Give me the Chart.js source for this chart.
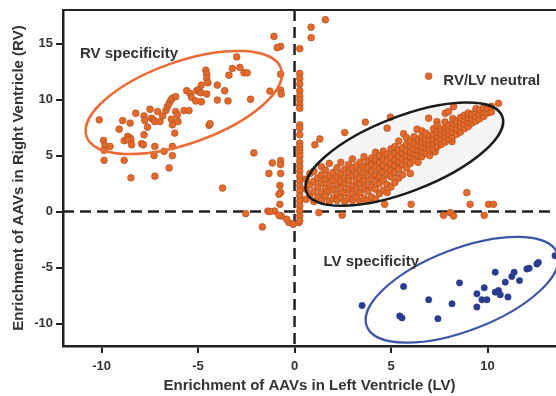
<!DOCTYPE html>
<html><head><meta charset="utf-8">
<script src="https://cdn.jsdelivr.net/npm/chart.js@4.4.0/dist/chart.umd.min.js"></script>
<style>html,body{margin:0;padding:0;background:#fff}#wrap{width:556px;height:396px;position:relative}</style>
</head><body><div id="wrap"><canvas id="c" width="556" height="396"></canvas></div>
<script>
const xTicks=[-10,-5,0,5,10];
const yTicks=[-10,-5,0,5,10,15];
const xTitle='Enrichment of AAVs in Left Ventricle (LV)';
const yTitle='Enrichment of AAVs in Right Ventricle (RV)';

const rvPoints=[[-10.12,8.19],[-9.90,6.35],[-9.83,5.88],[-9.56,5.82],[-9.87,5.47],[-9.87,4.58],[-9.09,7.36],[-8.91,8.13],[-8.83,6.33],[-8.83,4.58],[-8.65,6.71],[-8.52,6.57],[-8.48,6.42],[-8.65,6.42],[-8.45,5.97],[-8.52,7.90],[-8.48,3.02],[-8.23,8.78],[-7.93,6.06],[-7.83,5.97],[-7.80,6.86],[-7.80,8.54],[-7.76,8.13],[-7.62,7.54],[-7.49,9.14],[-7.41,8.34],[-7.31,8.19],[-7.24,8.04],[-7.24,5.82],[-7.28,5.00],[-7.24,3.16],[-7.10,8.93],[-6.97,8.04],[-6.84,8.54],[-6.76,5.38],[-6.67,9.02],[-6.59,9.37],[-6.50,9.67],[-6.41,9.96],[-6.33,10.12],[-6.16,10.26],[-6.50,3.90],[-6.38,8.25],[-6.33,7.75],[-6.33,5.82],[-6.33,5.00],[-6.21,7.01],[-6.16,8.93],[-6.07,8.63],[-6.04,8.04],[-5.73,9.02],[-5.47,9.02],[-5.59,10.79],[-5.42,10.56],[-5.34,10.20],[-5.12,9.88],[-5.07,10.79],[-4.95,10.91],[-4.86,10.61],[-4.83,9.81],[-4.83,11.30],[-4.60,12.63],[-4.55,12.27],[-4.55,11.89],[-4.49,11.50],[-4.55,10.50],[-4.43,7.70],[-4.38,7.85],[-4.00,11.30],[-4.00,9.96],[-3.62,10.79],[-3.45,9.88],[-3.40,12.18],[-3.22,12.78],[-3.00,13.81],[-2.83,12.87],[-2.62,12.39],[-2.45,12.39],[-2.28,10.03],[-2.11,5.24]];

const neutralCols=[
[0.6,[1.1,2.0,2.9]],[0.8,[1.5,2.4,3.4]],[1.0,[0.9,1.8,2.7,3.6]],[1.2,[1.3,2.2,3.0]],
[1.4,[1.0,1.7,2.6,3.3,4.0]],[1.6,[1.4,2.1,2.9,3.7]],[1.8,[0.9,1.8,2.5,3.2,4.3]],[2.0,[1.2,2.0,2.8,3.5]],
[2.2,[1.0,1.6,2.4,3.1,3.9]],[2.4,[1.3,2.1,2.7,3.4,4.4]],[2.6,[0.9,1.7,2.5,3.0,3.8]],[2.8,[1.2,2.0,2.8,3.5,4.2]],
[3.0,[1.0,1.6,2.3,3.2,3.9,4.7]],[3.2,[1.3,2.0,2.7,3.4,4.1]],[3.4,[0.9,1.7,2.5,3.0,3.7,4.4]],[3.6,[1.2,2.1,2.8,3.5,4.0,4.9]],
[3.8,[1.0,1.8,2.4,3.2,3.9,4.5]],[4.0,[1.3,2.2,2.9,3.6,4.2,4.8]],[4.2,[1.1,2.0,2.7,3.3,4.0,4.6,5.3]],[4.4,[1.6,2.5,3.1,3.8,4.4,5.0]],
[4.6,[1.9,2.8,3.5,4.1,4.7,5.4]],[4.8,[1.7,2.4,3.3,3.9,4.5,5.1]],[5.0,[2.2,3.1,3.7,4.3,4.9,5.6]],[5.2,[2.6,3.5,4.1,4.6,5.2,5.8]],
[5.4,[3.0,3.8,4.4,4.9,5.5,6.3]],[5.6,[3.3,4.2,4.7,5.2,5.7]],[5.8,[3.9,4.5,5.0,5.5,6.0,6.6]],[6.0,[3.4,4.3,4.9,5.3,5.8,6.3]],
[6.2,[4.6,5.2,5.6,6.1,6.7]],[6.4,[4.4,5.0,5.5,5.9,6.4]],[6.6,[4.9,5.4,5.8,6.2,6.7,7.2]],[6.8,[5.2,5.7,6.1,6.5,7.0]],
[7.0,[5.0,5.5,6.0,6.4,6.8]],[7.2,[5.6,6.1,6.5,6.9,7.4]],[7.4,[5.8,6.3,6.7,7.1,7.7]],[7.6,[6.0,6.5,6.9,7.3]],
[7.8,[6.2,6.7,7.1,7.5,8.0]],[8.0,[6.5,6.9,7.3,7.7]],[8.2,[6.7,7.1,7.5,7.9,8.3]],[8.4,[6.9,7.4,7.8,8.1]],
[8.6,[7.1,7.6,8.0,8.4]],[8.8,[7.4,7.8,8.2,8.6]],[9.0,[7.6,8.0,8.4,8.8]],[9.2,[7.9,8.3,8.7]],
[9.4,[8.1,8.5,8.9,9.2]],[9.6,[8.3,8.7,9.1]],[9.8,[8.5,8.9,9.3]],[10.0,[8.8,9.2]],[10.2,[8.9,9.4]]
];

const zeroColumnY=[14.55,12.33,11.89,11.38,10.79,10.32,9.97,9.52,9.23,7.75,7.45,6.86,6.12,5.82,5.53,5.24,4.94,4.50,4.05,3.61,3.16,2.72,2.28,1.83,1.39,0.94,0.50,0.05,-0.39,-0.83];
const zeroColumnX=0.27;

const otherPoints=[[-0.72,14.75],[-0.9,14.64],[-0.72,12.27],[-0.72,10.85],[-0.69,10.5],[-1.28,10.76],[-0.72,4.55],[-0.72,4.2],[-0.72,3.4],[-0.76,2.33],[-0.72,1.71],[-0.81,1.54],[-0.76,0.65],[-0.69,-0.39],[-1.15,4.35],[-1.33,3.4],[-1.07,15.64],[-3.73,2.1],
[-1.38,0.05],[-1.03,0.05],[-2.53,-0.18],[-1.28,0],[-1.67,-1.37],[-0.81,-0.33],[-0.29,-0.98],[-0.07,-1.13],[-0.41,-0.68],[0.22,-0.98],
[0.86,16.47],[0.86,15.53],[1.60,17.13],
[2.47,-0.33],[1.26,-0.09],[8.93,1.69],[9.1,0.65],[10.05,0.65],[10.31,0.65],[6.04,0.65],[4.67,0.65],[7.72,-0.33],[8.07,-0.09],[8.24,-0.39],[9.83,-0.33],
[1.31,6.48],[1.05,5.97],[2.60,7.06],[3.67,7.99],[4.97,8.43],[4.80,7.45],[5.65,6.95],[6.35,7.36],[6.95,8.34],[7.81,8.78],[7.98,8.93],[8.24,9.37],[9.07,8.63],[9.19,8.34],[9.71,8.63],[9.88,9.08],[10.05,9.08],[10.57,9.67],[6.95,12.09],[7.38,8.04],[8.16,6.26],[7.29,5.34]];

const lvPoints=[[3.50,-8.38],[5.65,-6.69],[5.45,-9.32],[5.57,-9.49],[6.95,-7.87],[7.43,-9.56],[8.16,-8.23],[8.55,-6.36],[9.45,-7.34],[9.45,-8.52],[9.71,-7.87],[9.97,-7.87],[9.83,-6.80],[10.40,-5.41],[10.40,-7.19],[10.57,-7.05],[10.66,-7.43],[10.92,-6.30],[11.06,-7.63],[11.26,-5.80],[11.38,-5.41],[11.66,-6.16],[12.04,-5.12],[12.16,-5.06],[12.56,-4.68],[12.64,-4.53],[13.50,-3.94]];

const groupLabels=[{text:'RV specificity',x:-11.12,y:14.04},{text:'RV/LV neutral',x:7.71,y:11.69},{text:'LV specificity',x:1.50,y:-4.5}];

// ellipse: centre in data units, semi-axes & tilt in screen pixels
const ellipses=[
 {cx:-5.74,cy:9.74,a:103,b:41,angle:19.3,color:'#ec6a33',width:2.5,fill:null},
 {cx:5.69,cy:5.13,a:105,b:37.5,angle:21.2,color:'#1c1c1c',width:2.5,fill:'rgba(170,170,170,0.12)'},
 {cx:8.68,cy:-6.98,a:102,b:41,angle:21,color:'#3d56a6',width:2.2,fill:null}
];

const toXY=arr=>arr.map(p=>({x:p[0],y:p[1]}));
const neutralPoints=[];
neutralCols.forEach(c=>c[1].forEach(v=>neutralPoints.push({x:c[0],y:v})));
const zeroColumn=zeroColumnY.map(v=>({x:zeroColumnX,y:v}));

const ORANGE='#e36a2b', ORANGE_EDGE='#a84b1b', BLUE='#2a3c8d';
const orangeStyle={backgroundColor:ORANGE,borderColor:ORANGE_EDGE,borderWidth:0.6,pointRadius:3.4,pointHoverRadius:3.4};

const overlay={id:'overlay',
 beforeDatasetsDraw(chart){
  const {ctx,chartArea:a,scales:{x,y}}=chart;
  ctx.save();
  ellipses.forEach(e=>{ if(!e.fill) return;
    ctx.beginPath();
    ctx.ellipse(x.getPixelForValue(e.cx),y.getPixelForValue(e.cy),e.a,e.b,-e.angle*Math.PI/180,0,Math.PI*2);
    ctx.fillStyle=e.fill; ctx.fill();});
  ctx.strokeStyle='#222'; ctx.lineWidth=2.5; ctx.setLineDash([11,6]);
  const x0=x.getPixelForValue(0), y0=y.getPixelForValue(0);
  ctx.beginPath(); ctx.moveTo(x0,a.top); ctx.lineTo(x0,a.bottom); ctx.stroke();
  ctx.beginPath(); ctx.moveTo(a.left,y0); ctx.lineTo(a.right,y0); ctx.stroke();
  ctx.restore();
 },
 afterDatasetsDraw(chart){
  const {ctx,chartArea:a,scales:{x,y}}=chart;
  ctx.save();
  ellipses.forEach(e=>{
    ctx.beginPath();
    ctx.ellipse(x.getPixelForValue(e.cx),y.getPixelForValue(e.cy),e.a,e.b,-e.angle*Math.PI/180,0,Math.PI*2);
    ctx.strokeStyle=e.color; ctx.lineWidth=e.width; ctx.stroke();});
  ctx.fillStyle='#333'; ctx.font='bold 15px "Liberation Sans", Arial, sans-serif'; ctx.textBaseline='middle'; ctx.textAlign='left';
  groupLabels.forEach(l=>ctx.fillText(l.text,x.getPixelForValue(l.x),y.getPixelForValue(l.y)));
  ctx.strokeStyle='#222'; ctx.lineWidth=2.2;
  ctx.beginPath(); ctx.moveTo(a.left-1,a.top); ctx.lineTo(a.right,a.top); ctx.stroke();
  ctx.restore();
 }
};

const tickFont={family:'"Liberation Sans", Arial, sans-serif',size:13,weight:'bold'};
const titleFont={family:'"Liberation Sans", Arial, sans-serif',size:15,weight:'bold'};
const noPad=s=>{s.paddingLeft=0;s.paddingRight=0;s.paddingTop=0;s.paddingBottom=0;};

new Chart(document.getElementById('c'),{
 type:'scatter',
 data:{datasets:[
  Object.assign({label:'RV',data:toXY(rvPoints)},orangeStyle),
  Object.assign({label:'neutral',data:neutralPoints},orangeStyle),
  Object.assign({label:'zero',data:zeroColumn},orangeStyle),
  Object.assign({label:'other',data:toXY(otherPoints)},orangeStyle),
  {label:'LV',data:toXY(lvPoints),backgroundColor:BLUE,borderColor:BLUE,borderWidth:0.5,pointRadius:3.2}
 ]},
 options:{
  responsive:false,animation:false,
  layout:{autoPadding:false,padding:{top:10,right:0,left:0,bottom:0}},
  plugins:{legend:{display:false},tooltip:{enabled:false}},
  scales:{
   x:{type:'linear',min:-12,max:13.55,
      afterBuildTicks:s=>{s.ticks=xTicks.map(v=>({value:v}));},
      afterFit:s=>{s.height=50;noPad(s);},
      grid:{display:true,drawOnChartArea:false,drawTicks:true,tickLength:7,color:'#222',lineWidth:2},
      border:{display:true,color:'#222',width:2.5},
      ticks:{color:'#333',font:tickFont,padding:6,maxRotation:0,callback:v=>String(v)},
      title:{display:true,text:xTitle,color:'#333',font:titleFont,padding:{top:0,bottom:1}}},
   y:{type:'linear',min:-12,max:18,
      afterBuildTicks:s=>{s.ticks=yTicks.map(v=>({value:v}));},
      afterFit:s=>{s.width=63;noPad(s);},
      grid:{display:true,drawOnChartArea:false,drawTicks:true,tickLength:7,color:'#222',lineWidth:2},
      border:{display:true,color:'#222',width:2.5},
      ticks:{color:'#333',font:tickFont,padding:3,callback:v=>String(v)},
      title:{display:true,text:yTitle,color:'#333',font:titleFont,padding:{top:10,bottom:0}}}
  }
 },
 plugins:[overlay]
});
</script></body></html>
